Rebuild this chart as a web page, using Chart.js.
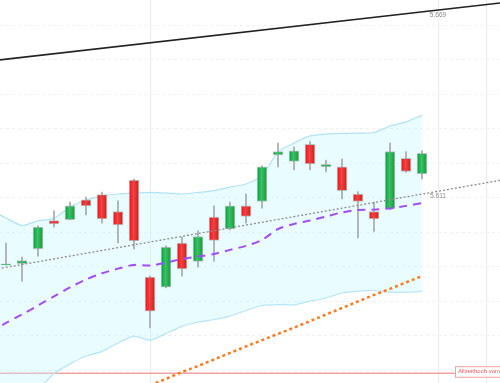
<!DOCTYPE html>
<html><head><meta charset="utf-8">
<script src="https://cdn.jsdelivr.net/npm/chart.js@4.4.1/dist/chart.umd.min.js"></script>
<style>html,body{margin:0;padding:0;background:#fff}#wrap{width:500px;height:383px;position:relative}</style>
</head><body><div id="wrap"><canvas id="c"></canvas></div>
<script>
// ---- data ----
const SESSIONS = [0,1,2,3,4,5,6,7,8,9,10,11,12,13,14,15,16,17,18,19,20,21,22,23,24,25,26];
const OPEN  = [5587.4,5587.8,5592.5,5601.6,5601.9,5608.2,5609.9,5604.5,5614.6,5583.5,5580.3,5594.4,5588.5,5602.7,5598.9,5606.3,5607.7,5622.6,5620.5,5626.0,5618.8,5618.8,5610.1,5604.5,5605.3,5621.5,5616.5];
const HIGH  = [5594.4,5589.9,5599.9,5604.7,5607.5,5609.1,5610.7,5607.9,5614.9,5583.8,5593.5,5596.3,5598.3,5606.3,5607.5,5610.1,5619.1,5626.4,5625.2,5626.9,5621.0,5621.3,5610.9,5607.4,5626.4,5623.7,5623.9];
const LOW   = [5587.3,5582.2,5590.2,5599.5,5601.8,5603.4,5600.8,5594.4,5592.5,5567.2,5580.0,5583.8,5586.7,5588.6,5598.6,5600.8,5605.6,5618.8,5617.8,5617.8,5617.2,5608.5,5596.0,5598.1,5605.1,5617.0,5614.9];
const CLOSE = [5587.7,5588.8,5599.5,5600.5,5606.3,5606.3,5602.1,5600.2,5595.1,5572.6,5593.1,5586.1,5596.5,5595.2,5606.3,5602.9,5618.8,5623.7,5623.9,5619.7,5619.6,5611.2,5607.7,5602.1,5623.7,5617.3,5623.1];

const BAND_SESSIONS = [-1,0,1,2,3,4,5,6,7,8,9,10,11,12,13,14,15,16,17,18,19,20,21,22,23,24,25,26];
const BAND_UPPER = [5605.0,5602.4,5600.0,5601.5,5602.3,5605.9,5608.2,5609.5,5610.1,5610.4,5610.6,5610.4,5610.1,5610.6,5611.2,5612.3,5613.3,5615.9,5623.6,5626.4,5628.7,5629.3,5629.5,5629.6,5629.8,5631.9,5633.2,5635.3];
const BAND_LOWER = [5544.1,5543.5,5544.1,5547.3,5552.6,5555.7,5558.2,5559.7,5562.4,5564.6,5563.3,5565.4,5567.7,5569.1,5569.9,5571.0,5572.8,5574.4,5574.7,5574.6,5575.8,5576.8,5578.4,5579.0,5579.2,5578.7,5578.7,5578.9];
const AVG_SHORT  = [5565.9,5568.8,5571.5,5574.4,5577.3,5580.2,5582.7,5584.7,5586.2,5587.4,5587.2,5588.1,5589.3,5590.1,5590.9,5592.2,5593.5,5595.4,5598.9,5600.5,5601.6,5602.9,5604.2,5605.0,5605.1,5605.5,5606.3,5607.2];

const AVG_LONG_SESSIONS = [9,10,11,12,13,14,15,16,17,18,19,20,21,22,23,24,25,26];
const AVG_LONG = [5548.9,5550.9,5553.1,5555.0,5557.1,5559.2,5561.3,5563.3,5565.3,5567.3,5569.4,5571.5,5573.6,5575.7,5577.8,5579.7,5581.8,5583.8];

const TREND_SESSIONS = [-1,32];
const RESISTANCE = [5652.7,5671.9];
const SUPPORT    = [5585.7,5615.5];

const LINE_LABEL_SESSION = 27;
const LINE_LABEL_VALUES = [5669,5611];
const LINE_LABEL_TEXTS  = ['5.669','5.611'];

const ATH_VALUE = 5552.7;
const ATH_TEXT  = 'Allzeithoch vom 1';

const X_MIN = -0.375, X_MAX = 30.875;
const Y_MIN = 5549.57, Y_MAX = 5672.24;
const X_GRID = [9,27,30];
const Y_GRID = [5664.23,5653.18,5642.13,5631.08,5620.03,5608.98,5597.93,5586.88,5575.83,5564.78,5553.73];

// ---- helpers ----
const pts = (xs, ys) => xs.map((x,i)=>({x, y: ys[i]}));
const isUp = i => CLOSE[i] >= OPEN[i];

function bodyFill(c){
  if (c.type !== 'data') return '#e52a2a';
  const i = c.dataIndex;
  const up = isUp(i);
  const solid = up ? '#1fa84c' : '#e52a2a';
  const sx = c.chart.scales && c.chart.scales.x;
  if (!sx) return solid;
  const px = sx.getPixelForValue(SESSIONS[i]);
  if (!isFinite(px)) return solid;
  const g = c.chart.ctx.createLinearGradient(px-5,0,px+5,0);
  if (up){ g.addColorStop(0,'#13963e'); g.addColorStop(0.45,'#2fc862'); g.addColorStop(1,'#14953f'); }
  else   { g.addColorStop(0,'#d41a1f'); g.addColorStop(0.45,'#f8403f'); g.addColorStop(1,'#d2191e'); }
  return g;
}

const annot = {
  id:'annot',
  beforeDatasetsDraw(chart){
    const {ctx, scales:{y}, chartArea} = chart;
    const ya = y.getPixelForValue(ATH_VALUE);
    ctx.save();
    ctx.strokeStyle = '#f4a3a3'; ctx.lineWidth = 1.5;
    ctx.beginPath(); ctx.moveTo(chartArea.left, ya); ctx.lineTo(chartArea.right, ya); ctx.stroke();
    ctx.restore();
  },
  afterDatasetsDraw(chart){
    const {ctx, scales:{x,y}, chartArea} = chart;
    ctx.save();
    ctx.font = '6.5px "Liberation Sans", Arial, sans-serif';
    ctx.fillStyle = '#8a8a8a'; ctx.textAlign = 'center'; ctx.textBaseline = 'top';
    const lx = x.getPixelForValue(LINE_LABEL_SESSION);
    LINE_LABEL_VALUES.forEach((v,k)=>{
      ctx.fillText(LINE_LABEL_TEXTS[k], lx, y.getPixelForValue(v)+2);
    });
    const ya = y.getPixelForValue(ATH_VALUE);
    const bx = chartArea.right - 45;
    ctx.fillStyle = '#ffffff'; ctx.strokeStyle = '#f0a0a0'; ctx.lineWidth = 1;
    ctx.fillRect(bx, ya-7, 60, 11); ctx.strokeRect(bx+0.5, ya-6.5, 60, 10.5);
    ctx.font = '6px "Liberation Sans", Arial, sans-serif';
    ctx.fillStyle = '#e25a5a'; ctx.textAlign = 'left'; ctx.textBaseline = 'middle';
    ctx.fillText(ATH_TEXT, bx+3, ya-1.5);
    ctx.restore();
  }
};

new Chart(document.getElementById('c'), {
  type: 'bar',
  data: {
    datasets: [
      { type:'line', label:'trend', data: pts(TREND_SESSIONS, RESISTANCE), borderColor:'#222', borderWidth:1.5, pointRadius:0, order:-2 },
      { type:'line', label:'support', data: pts(TREND_SESSIONS, SUPPORT), borderColor:'#8c8c8c', borderWidth:1.3, borderDash:[2,2], pointRadius:0, order:-2 },
      { type:'line', label:'avgShort', data: pts(BAND_SESSIONS, AVG_SHORT), borderColor:'#a24bff', borderWidth:2, borderDash:[8,6], pointRadius:0, tension:0.3, order:-1 },
      { type:'line', label:'avgLong', data: pts(AVG_LONG_SESSIONS, AVG_LONG), borderColor:'#ff7a21', borderWidth:2.5, borderDash:[3,3], pointRadius:0, order:-1 },
      { type:'bar', label:'body', data: SESSIONS.map((s,i)=>({x:s, y:[OPEN[i], CLOSE[i]]})), backgroundColor: bodyFill, borderColor:'rgba(150,150,150,0.5)', borderWidth:1, borderSkipped:false, barThickness:10, grouped:false, order:1 },
      { type:'bar', label:'wick', data: SESSIONS.map((s,i)=>({x:s, y:[LOW[i], HIGH[i]]})), backgroundColor:'#a8a8a8', borderWidth:0, barThickness:1, grouped:false, order:2 },
      { type:'line', label:'bandUpper', data: pts(BAND_SESSIONS, BAND_UPPER), borderColor:'#b2e2f7', borderWidth:1.2, pointRadius:0, tension:0.2, fill:'+1', backgroundColor:'rgba(195,247,255,0.36)', order:5 },
      { type:'line', label:'bandLower', data: pts(BAND_SESSIONS, BAND_LOWER), borderColor:'#b2e2f7', borderWidth:1.2, pointRadius:0, tension:0.2, fill:false, order:6 }
    ]
  },
  options: {
    responsive:true, maintainAspectRatio:false, animation:false,
    layout:{ padding:0 },
    plugins:{ legend:{display:false}, tooltip:{enabled:false} },
    scales:{
      x:{ type:'linear', min:X_MIN, max:X_MAX, offset:false,
          afterBuildTicks: s => { s.ticks = X_GRID.map(v=>({value:v})); },
          ticks:{display:false}, border:{display:false},
          grid:{ offset:false, drawTicks:false, color:'#ebe9f1', lineWidth:1 } },
      y:{ type:'linear', min:Y_MIN, max:Y_MAX, beginAtZero:false,
          afterBuildTicks: s => { s.ticks = Y_GRID.map(v=>({value:v})); },
          ticks:{display:false}, border:{display:false, dash:[3,3]},
          grid:{ drawTicks:false, color:'#f0f0f0', lineWidth:1 } }
    }
  },
  plugins:[annot]
});
</script>
</body></html>
